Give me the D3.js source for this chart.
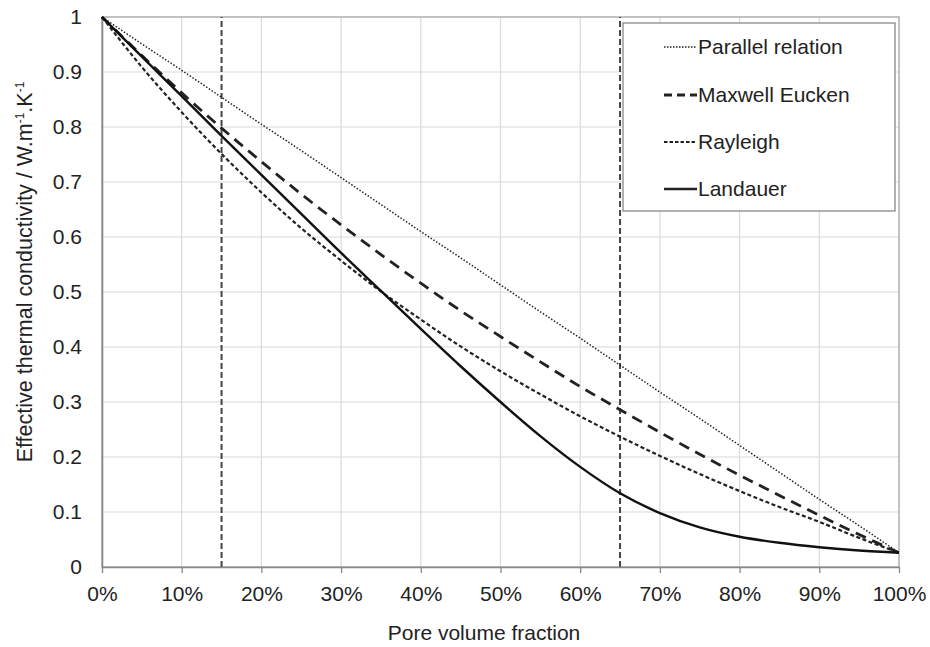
<!DOCTYPE html>
<html>
<head>
<meta charset="utf-8">
<script src="https://cdn.jsdelivr.net/npm/d3@7"></script>
<style>
  body { margin: 0; background: #fff; }
  svg text { font-family: "Liberation Sans", Arial, sans-serif; fill: #222; }
</style>
</head>
<body>
<div id="chart"></div>
<script>
// pore volume fraction (0..1) and the four model curves
var porosity = [0, 0.05, 0.10, 0.15, 0.20, 0.25, 0.30, 0.35, 0.40, 0.45, 0.50,
                0.55, 0.60, 0.65, 0.70, 0.75, 0.80, 0.85, 0.90, 0.95, 1.00];
var parallelK = [1, 0.951, 0.903, 0.854, 0.805, 0.757, 0.708, 0.659, 0.610, 0.562, 0.513,
                 0.464, 0.416, 0.367, 0.318, 0.270, 0.221, 0.172, 0.123, 0.075, 0.026];
var maxwellK = [1, 0.930, 0.862, 0.798, 0.737, 0.678, 0.622, 0.568, 0.516, 0.466, 0.419,
                0.373, 0.328, 0.286, 0.245, 0.205, 0.167, 0.130, 0.094, 0.059, 0.026];
var rayleighK = [1, 0.909, 0.827, 0.751, 0.681, 0.616, 0.557, 0.501, 0.450, 0.401, 0.356,
                 0.314, 0.274, 0.237, 0.202, 0.169, 0.138, 0.109, 0.082, 0.053, 0.026];
var landauerK = [1, 0.928, 0.856, 0.784, 0.713, 0.642, 0.571, 0.502, 0.433, 0.365, 0.300,
                 0.238, 0.182, 0.134, 0.098, 0.072, 0.055, 0.044, 0.036, 0.030, 0.026];
var seriesNames = ["Parallel relation", "Maxwell Eucken", "Rayleigh", "Landauer"];
var markerLines = [0.15, 0.65];
var xTicks = d3.range(0, 1.0001, 0.1);
var yTicks = d3.range(0, 1.0001, 0.1);

var width = 930, height = 647;
var margin = {left: 102, right: 31, top: 17, bottom: 80};
var fs = 21;

var svg = d3.select("#chart").append("svg")
    .attr("width", width)
    .attr("height", height);

var x = d3.scaleLinear().domain([0, 1]).range([margin.left, width - margin.right]);
var y = d3.scaleLinear().domain([0, 1]).range([height - margin.bottom, margin.top]);

// gridlines
svg.append("g").selectAll("line.vg")
    .data(xTicks.slice(1, -1)).enter().append("line")
    .attr("x1", d => x(d)).attr("x2", d => x(d))
    .attr("y1", y(0)).attr("y2", y(1))
    .attr("stroke", "#dadada").attr("stroke-width", 1.2);
svg.append("g").selectAll("line.hg")
    .data(yTicks.slice(1, -1)).enter().append("line")
    .attr("x1", x(0)).attr("x2", x(1))
    .attr("y1", d => y(d)).attr("y2", d => y(d))
    .attr("stroke", "#dadada").attr("stroke-width", 1.2);

// frame top / right
svg.append("rect")
    .attr("x", x(0)).attr("y", y(1))
    .attr("width", x(1) - x(0)).attr("height", y(0) - y(1))
    .attr("fill", "none").attr("stroke", "#a8a8a8").attr("stroke-width", 1.4);

// vertical dashed markers
svg.append("g").selectAll("line")
    .data(markerLines).enter().append("line")
    .attr("x1", d => x(d)).attr("x2", d => x(d))
    .attr("y1", y(0)).attr("y2", y(1))
    .attr("stroke", "#444").attr("stroke-width", 2)
    .attr("stroke-dasharray", "6,3");

// axes
var xAxis = d3.axisBottom(x).tickValues(xTicks).tickSize(6).tickSizeOuter(0)
    .tickFormat(d => Math.round(d * 100) + "%");
var gx = svg.append("g").attr("transform", "translate(0," + y(0) + ")").call(xAxis);
gx.select(".domain").attr("stroke", "#888").attr("stroke-width", 1.6);
gx.selectAll(".tick line").attr("stroke", "#888").attr("stroke-width", 1.3);
gx.selectAll(".tick text").attr("font-size", fs).attr("y", 34).attr("dy", 0).attr("fill", "#222")
    .style("font-family", "Liberation Sans, Arial, sans-serif");

var yAxis = d3.axisLeft(y).tickValues(yTicks).tickSize(0).tickPadding(20)
    .tickFormat(d => d === 0 ? "0" : d === 1 ? "1" : d3.format(".1f")(d));
var gy = svg.append("g").attr("transform", "translate(" + x(0) + ",0)").call(yAxis);
gy.select(".domain").attr("stroke", "#888").attr("stroke-width", 1.6);
gy.selectAll(".tick text").attr("font-size", fs).attr("fill", "#222")
    .style("font-family", "Liberation Sans, Arial, sans-serif");

// curves
var styles = [
  {data: parallelK, width: 1.5, dash: "1.5,1.8", color: "#222"},
  {data: maxwellK, width: 2.8, dash: "11,7", color: "#222"},
  {data: rayleighK, width: 2.2, dash: "4,2.5", color: "#222"},
  {data: landauerK, width: 2.4, dash: null, color: "#111"}
];

var line = d3.line().curve(d3.curveMonotoneX);
styles.forEach(function(s) {
  var pts = porosity.map((p, i) => [x(p), y(s.data[i])]);
  svg.append("path")
    .attr("d", line(pts))
    .attr("fill", "none")
    .attr("stroke", s.color)
    .attr("stroke-width", s.width)
    .attr("stroke-dasharray", s.dash);
});

// legend
var legend = svg.append("g");
legend.append("rect")
    .attr("x", 623).attr("y", 23).attr("width", 272).attr("height", 188)
    .attr("fill", "#fff").attr("stroke", "#888").attr("stroke-width", 1.3);
var rowY = [47, 95, 142, 189];
var legendDash = ["1.5,1.5", "8,5", "3.5,2", null];
seriesNames.forEach(function(name, i) {
  legend.append("line")
    .attr("x1", 664).attr("x2", 697)
    .attr("y1", rowY[i]).attr("y2", rowY[i])
    .attr("stroke", "#222")
    .attr("stroke-width", styles[i].width)
    .attr("stroke-dasharray", legendDash[i]);
  legend.append("text")
    .attr("x", 698).attr("y", rowY[i]).attr("dy", "0.35em")
    .attr("font-size", fs)
    .text(name);
});

// axis titles
svg.append("text")
    .attr("x", 484).attr("y", 640)
    .attr("text-anchor", "middle").attr("font-size", fs)
    .text("Pore volume fraction");

var yt = svg.append("text")
    .attr("transform", "translate(32,272) rotate(-90)")
    .attr("text-anchor", "middle").attr("font-size", 21.5);
yt.append("tspan").text("Effective thermal conductivity / W.m");
yt.append("tspan").attr("font-size", 12).attr("dy", -8).text("-1");
yt.append("tspan").attr("dy", 8).text(".K");
yt.append("tspan").attr("font-size", 12).attr("dy", -8).text("-1");
</script>
</body>
</html>
